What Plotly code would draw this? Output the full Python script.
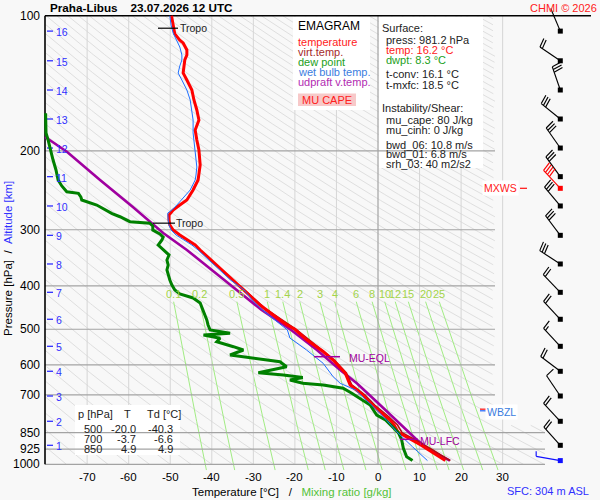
import numpy as np
import plotly.graph_objects as go

# sounding Praha-Libus 23.07.2026 12 UTC  (pressure hPa, temperature degC)
temp_p = [100.0, 104.9, 109.8, 113.3, 115.0, 119.2, 122.3, 125.5, 129.4, 134.2,
          139.1, 146.4, 154.1, 162.2, 170.8, 179.8, 189.2, 199.2, 215.2, 232.4,
          244.6, 257.5, 264.2, 271.1, 278.1, 285.3, 292.8, 300.4, 308.2, 316.2,
          324.4, 332.8, 350.4, 368.8, 388.3, 402.5, 419.3, 430.2, 441.4, 452.9,
          464.7, 476.7, 489.1, 500.0, 528.3, 560.4, 585.4, 600.6, 625.8, 665.6,
          682.9, 700.0, 718.9, 737.6, 756.7, 776.4, 796.6, 817.3, 838.6, 850.0,
          860.4, 882.7, 905.7, 929.2, 953.4, 978.2, 981.2]
temp_t = [-49.7, -49.3, -48.9, -47.7, -46.9, -46.0, -46.0, -46.5, -46.7, -46.9,
          -46.0, -44.8, -44.3, -43.6, -43.1, -44.0, -43.6, -43.1, -42.8, -43.3,
          -44.5, -46.0, -47.7, -49.3, -50.3, -50.3, -50.1, -49.3, -47.7, -45.7,
          -44.0, -42.8, -40.2, -37.5, -34.9, -33.0, -31.0, -29.8, -28.4, -26.8,
          -25.3, -23.6, -21.9, -20.0, -17.1, -13.2, -10.8, -9.6, -7.9, -6.7,
          -5.1, -3.7, -2.6, -1.4, 0.0, 1.4, 2.9, 3.9, 4.5, 4.9,
          6.0, 8.2, 10.3, 12.2, 14.0, 15.9, 16.2]

virt_p = [400.0, 450.0, 500.0, 550.0, 585.4, 625.8, 665.6, 682.9, 700.0, 737.6,
          776.4, 817.3, 850.0, 882.7, 905.7, 929.2, 953.4, 981.2]
virt_t = [-33.2, -27.1, -19.8, -14.3, -10.5, -7.6, -6.3, -4.7, -3.2, -0.8,
          2.1, 4.7, 5.8, 9.0, 11.2, 13.2, 15.1, 17.4]

dewp_p = [165.0, 175.2, 182.5, 189.2, 196.2, 204.4, 209.7, 220.7, 232.4, 239.6,
          246.8, 248.8, 253.6, 257.5, 264.2, 271.1, 276.0, 280.6, 287.8, 290.2,
          294.3, 300.4, 306.6, 311.4, 316.2, 324.4, 332.8, 341.5, 350.4, 359.5,
          368.8, 378.4, 388.3, 398.4, 408.7, 417.2, 425.8, 436.9, 452.9, 469.5,
          476.7, 489.1, 501.9, 510.5, 514.9, 523.7, 533.0, 546.8, 556.1, 570.6,
          580.3, 590.6, 605.9, 624.9, 632.3, 637.8, 640.4, 648.7, 659.8, 665.6,
          677.0, 694.6, 718.9, 737.6, 776.4, 796.6, 820.0, 850.0, 882.7, 921.0,
          962.0, 981.2]
dewp_t = [-80.0, -80.0, -79.9, -79.4, -78.9, -78.5, -78.2, -77.5, -77.0, -76.1,
          -74.9, -72.1, -71.5, -71.3, -67.7, -65.7, -64.0, -62.1, -59.7, -54.9,
          -54.2, -54.2, -52.5, -51.7, -52.0, -52.9, -51.7, -50.3, -50.8, -50.5,
          -50.8, -50.5, -50.1, -49.6, -48.9, -47.7, -44.5, -42.8, -42.1, -41.4,
          -41.2, -40.9, -40.4, -35.6, -42.0, -38.0, -38.8, -34.8, -32.4, -35.6,
          -29.2, -23.6, -22.0, -28.8, -22.8, -18.8, -18.1, -21.2, -18.1, -13.2,
          -8.4, -6.3, -3.6, -1.9, -0.3, 1.8, 3.2, 4.9, 5.7, 6.1,
          6.9, 8.3]

wetb_p = [100.0, 104.9, 109.3, 113.3, 117.4, 122.3, 125.5, 129.4, 134.2, 139.1,
          146.4, 154.1, 162.2, 170.8, 182.5, 189.2, 199.2, 209.7, 217.4, 226.5,
          232.4, 244.6, 251.0, 257.5, 264.2, 271.1, 275.3, 285.3, 292.8, 300.4,
          308.2, 316.2, 324.4, 332.8, 350.4, 368.8, 388.3, 408.7, 430.2, 452.9,
          476.7, 501.9, 522.9, 556.1, 595.4, 637.8, 659.8, 682.9, 712.6, 756.7,
          800.0, 846.0, 914.0, 960.0, 981.2]
wetb_t = [-50.1, -49.8, -49.3, -48.4, -47.7, -47.2, -47.2, -47.7, -48.1, -47.2,
          -46.0, -45.2, -44.8, -44.5, -44.5, -44.3, -44.0, -43.8, -43.6, -43.8,
          -44.0, -45.2, -46.2, -47.2, -48.4, -49.6, -50.6, -50.5, -50.3, -49.8,
          -48.6, -46.7, -44.8, -43.3, -40.7, -38.0, -35.5, -32.2, -30.3, -27.8,
          -24.8, -21.8, -21.2, -17.2, -13.2, -10.8, -9.1, -5.4, -3.3, -0.3,
          2.2, 4.5, 8.3, 10.7, 11.9]

parc_p = [186.3, 201.2, 232.4, 266.9, 305.0, 332.8, 402.5, 452.9, 501.9, 556.1,
          616.3, 659.8, 730.0, 810.2, 882.7, 929.2, 981.2]
parc_t = [-80.1, -74.8, -66.9, -59.0, -51.7, -46.0, -34.9, -28.0, -20.9, -14.7,
          -9.1, -5.1, 0.0, 5.3, 9.4, 12.5, 17.3]

# wind at every km ASL (direction deg, speed kt)
alt_km = list(range(1, 17))
alt_p = [907.1, 801.9, 704.3, 620.4, 545.7, 475.0, 413.6, 357.6,
         308.7, 265.5, 228.4, 197.2, 169.9, 146.4, 126.0, 108.2]
wind_dir = [318, 317, 326, 307, 317, 317, 316, 303, 323, 320, 324, 325, 309, 341, 304, 337]
wind_kt = [20, 20, 10, 20, 15, 20, 20, 30, 30, 30, 30, 30, 30, 30, 20, 0]
sfc_p, sfc_dir, sfc_kt = 981.2, 280, 5
mxws_p, mxws_dir, mxws_kt = 242.5, 317, 40

# levels marked on the diagram
tropo_p = [106.6, 290.0]
eql_p, lfc_p, wbzl_p = 575.6, 879.6, 756.7

press_ticks = [100, 200, 300, 400, 500, 600, 700, 850, 925, 1000]
temp_ticks = [-70, -60, -50, -40, -30, -20, -10, 0, 10, 20, 30]
mix_ratios = [0.1, 0.2, 0.5, 1, 1.4, 2, 3, 4, 6, 8, 10, 12, 15, 20, 25]
theta_c = list(range(-80, 335, 5))

tab_p = [500, 700, 850]
tab_t = [-20.0, -3.7, 4.9]
tab_td = [-40.3, -6.6, 4.9]

sfc_info = dict(press=981.2, temp=16.2, dwpt=8.3, tconv=16.1, tmxfc=18.5)
shear_info = dict(mu_cape=80, mu_cinh=0, bwd_06=10.8, bwd_01=6.8, srh_03=40)
station_alt = 304

# diagram geometry (page is 600 x 500 px)
W, H = 600, 500
X0C, PX_C = 378.0, 4.155
Y1000, PX_LN = 464.3, 194.8
BARB_X = 560.3
FONT = "Liberation Sans, Arial, sans-serif"
BG = "#f8f8f8"
BLUE = "#3030ff"


def x_of_t(t):
    return X0C + PX_C * np.asarray(t, dtype=float)


def t_of_x(x):
    return (np.asarray(x, dtype=float) - X0C) / PX_C


def y_of_p(p):
    return Y1000 + PX_LN * np.log(np.asarray(p, dtype=float) / 1000.0)


def p_of_y(y):
    return 1000.0 * np.exp((np.asarray(y, dtype=float) - Y1000) / PX_LN)


fig = go.Figure()


def add_line(xs, ys, color, width, fill=None, fillcolor=None):
    fig.add_trace(go.Scatter(x=xs, y=ys, mode="lines", line=dict(color=color, width=width),
                             fill=fill, fillcolor=fillcolor, hoverinfo="skip", showlegend=False))


def px_segments(segs):
    xs, ys = [], []
    for (xa, ya), (xb, yb) in segs:
        xs += [float(t_of_x(xa)), float(t_of_x(xb)), None]
        ys += [float(p_of_y(ya)), float(p_of_y(yb)), None]
    return xs, ys


def px_box(x0, y0, x1, y1, color):
    xs = [float(v) for v in t_of_x([x0, x1, x1, x0, x0])]
    ys = [float(v) for v in p_of_y([y0, y0, y1, y1, y0])]
    add_line(xs, ys, color, 0, fill="toself", fillcolor=color)


# dry adiabats
pp = np.geomspace(100, 1000, 300)
xs, ys = [], []
for th in theta_c:
    t = (th + 273.15) * (pp / 1000.0) ** 0.2857 - 273.15
    x = x_of_t(t)
    ok = (x >= 45) & (x <= np.where(pp < 815, 495, 545))
    for i in range(len(pp)):
        if ok[i]:
            xs.append(float(t[i]))
            ys.append(float(pp[i]))
        elif xs and xs[-1] is not None:
            xs.append(None)
            ys.append(None)
    xs.append(None)
    ys.append(None)
add_line(xs, ys, "#dfdfdf", 1)

# saturation mixing ratio lines
pm = np.geomspace(434, 1030, 60)
xs, ys = [], []
mix_top = []
for w in mix_ratios:
    lnr = np.log(w * pm / (622.0 + w) / 6.112)
    t = 243.5 * lnr / (17.67 - lnr)
    xs += list(t) + [None]
    ys += list(pm) + [None]
    mix_top.append(float(t[0]))
add_line(xs, ys, "#a2ec84", 1)

# isotherms
xs, ys = [], []
for t in temp_ticks:
    if t != 0:
        xs += [t, t, None]
        ys += [100, 1000, None]
add_line(xs, ys, "#d6d6d6", 1)

# white panels
px_box(293, 16.5, 370, 110, "white")
px_box(378.8, 16.5, 483, 168, "white")
px_box(75, 405, 180, 455, "white")
px_box(298, 93.5, 356, 106, "#f7c9c9")

# isobars and 0 degC line
xs, ys = [], []
for p in press_ticks[1:]:
    xr = 545 if p >= 850 else 495
    xs += [float(t_of_x(45)), float(t_of_x(xr)), None]
    ys += [p, p, None]
xs += [0, 0, None]
ys += [100, 1000, None]
add_line(xs, ys, "#a3a3a3", 1.2)

# frame
add_line([float(t_of_x(45))] * 2, [100, 1000], "black", 1.6)
add_line([float(t_of_x(45)), float(t_of_x(591))], [100, 100], "black", 1.4)

# altitude ticks
xs, ys = [], []
for p in alt_p:
    xs += [float(t_of_x(47)), float(t_of_x(53)), None]
    ys += [p, p, None]
add_line(xs, ys, BLUE, 1.3)

# profiles
add_line(parc_t, parc_p, "#a000a0", 2.6)
add_line(virt_t, virt_p, "#b01010", 1.6)
add_line(temp_t, temp_p, "#ff0000", 3)
add_line(dewp_t, dewp_p, "#008000", 3)
add_line(wetb_t, wetb_p, "#1f6fff", 1)

# level markers
segs = []
for p, (xa, xb) in zip(tropo_p, [(158, 178), (153, 175)]):
    y = float(y_of_p(p))
    segs.append(((xa, y), (xb, y)))
xs, ys = px_segments(segs)
add_line(xs, ys, "black", 1.2)
ye, yl = float(y_of_p(eql_p)), float(y_of_p(lfc_p))
xs, ys = px_segments([((314, ye), (340, ye)), ((400, yl), (418, yl))])
add_line(xs, ys, "#a000a0", 1.5)
yw = float(y_of_p(wbzl_p))
xs, ys = px_segments([((480, yw - 0.8), (486, yw - 0.8))])
add_line(xs, ys, "#ff2020", 1.3)
xs, ys = px_segments([((480, yw + 0.8), (486, yw + 0.8))])
add_line(xs, ys, "#3070ff", 1.3)
ym = float(y_of_p(mxws_p))
xs, ys = px_segments([((520, ym), (527, ym))])
add_line(xs, ys, "#ff2020", 1.3)


# wind barbs
def barb(p, wdir, kt, shaft=24.5, full=9.5, half=5.0, step=2.8):
    bx, by = BARB_X, float(y_of_p(p))
    a = np.radians(wdir)
    ux, uy = np.sin(a), -np.cos(a)
    ex, ey = bx + shaft * ux, by + shaft * uy
    tilt = np.radians(10)
    tx = -uy * np.cos(tilt) + ux * np.sin(tilt)
    ty = ux * np.cos(tilt) + uy * np.sin(tilt)
    segs = [((bx, by), (ex, ey))]
    n_full, n_half = kt // 10, 1 if kt % 10 >= 5 else 0
    for i in range(n_full + n_half):
        ln = full if i < n_full else half
        sx, sy = ex - i * step * ux, ey - i * step * uy
        segs.append(((sx, sy), (sx + ln * tx, sy + ln * ty)))
    return segs


def draw_barbs(levels, dirs, speeds, color):
    segs = []
    for p, d, s in zip(levels, dirs, speeds):
        segs += barb(p, d, s)
    xs, ys = px_segments(segs)
    add_line(xs, ys, color, 1.15)
    fig.add_trace(go.Scatter(x=[float(t_of_x(BARB_X))] * len(levels), y=list(levels), mode="markers",
                             marker=dict(symbol="square", size=5, color=color),
                             hoverinfo="skip", showlegend=False))


draw_barbs(alt_p, wind_dir, wind_kt, "black")
draw_barbs([mxws_p], [mxws_dir], [mxws_kt], "#ff0000")
draw_barbs([sfc_p], [sfc_dir], [sfc_kt], "#1010ff")


# texts
def note(text, x, y, size=11, color="#222222", anchor="left", **kw):
    fig.add_annotation(text=text, x=x / W, y=1 - y / H, xref="paper", yref="paper",
                       xanchor=anchor, yanchor="middle", showarrow=False,
                       font=dict(family=FONT, size=size, color=color), **kw)


def note_at(text, t, p, size=11, color="#222222", anchor="left", **kw):
    fig.add_annotation(text=text, x=t, y=float(np.log10(p)), xref="x", yref="y",
                       xanchor=anchor, yanchor="middle", showarrow=False,
                       font=dict(family=FONT, size=size, color=color), **kw)


NB = "\u00a0"
note("<b>Praha-Libus" + NB * 4 + "23.07.2026 12 UTC</b>", 48, 7.5, size=11.7, color="black")
note("CHMI © 2026", 599, 7.5, size=11, color="#ff2020", anchor="right")

for p in press_ticks:
    note_at(str(p), float(t_of_x(42)), p, size=12, color="black", anchor="right")
for t in temp_ticks:
    note(str(t), float(x_of_t(t)), 477, size=11.5, color="black", anchor="center")
for k, p in zip(alt_km, alt_p):
    note_at(str(k), float(t_of_x(53.5)), float(p_of_y(y_of_p(p) + 1)), size=10.5, color=BLUE)
for w, t in zip(mix_ratios, mix_top):
    note_at(f"{w:g}", t, float(p_of_y(294)), size=11, color="#a3d44a", anchor="center")

note("Pressure [hPa]" + NB * 2 + "/" + NB * 2 + f"<span style='color:{BLUE}'>Altitude [km]</span>",
     8, 259, size=11.5, color="black", anchor="center", textangle=-90)
note("Temperature [°C]" + NB * 3 + "/" + NB * 3 + "<span style='color:#55c23a'>Mixing ratio [g/kg]</span>",
     292, 492, size=11.5, color="black", anchor="center")
note(f"SFC: {station_alt} m ASL", 591, 491, size=11, color=BLUE, anchor="right")

# legend panel
note("EMAGRAM", 296, 26, size=12, color="black")
for i, (lab, col) in enumerate([("temperature", "#ff1a1a"), ("virt.temp.", "#a52a2a"),
                                ("dew point", "#22a022"), ("wet bulb temp.", "#3a7de0"),
                                ("udpraft v.temp.", "#b22bb2")]):
    note(lab, 296, 42 + 10 * i, size=11, color=col)
note("MU CAPE", 327, 100, size=11, color="#ff2020", anchor="center")

# surface / instability panel
note("Surface:", 380, 27.5)
note(f"press: {sfc_info['press']} hPa", 384, 40)
note(f"temp: {sfc_info['temp']} °C", 384, 50, color="#ff2020")
note(f"dwpt: {sfc_info['dwpt']} °C", 384, 60, color="#22a022")
note(f"t-conv: {sfc_info['tconv']} °C", 384, 74)
note(f"t-mxfc: {sfc_info['tmxfc']} °C", 384, 84.5)
note("Instability/Shear:", 380, 108.5)
note(f"mu_cape: {shear_info['mu_cape']} J/kg", 384, 120)
note(f"mu_cinh: {shear_info['mu_cinh']} J/kg", 384, 130)
note(f"bwd_06: {shear_info['bwd_06']} m/s", 384, 145)
note(f"bwd_01: {shear_info['bwd_01']} m/s", 384, 154.5)
note(f"srh_03: {shear_info['srh_03']} m2/s2", 384, 164.5)

# standard level table
note("p [hPa]", 76, 413.5)
note("T", 127, 413.5, anchor="center")
note("Td [°C]", 145, 413.5)
for i, (p, t, td) in enumerate(zip(tab_p, tab_t, tab_td)):
    y = 428.5 + 10.3 * i
    note(str(p), 104, y, anchor="right")
    note(f"{t:.1f}", 138, y, anchor="right")
    note(f"{td:.1f}", 175, y, anchor="right")

# level labels
for p, x in zip(tropo_p, [178, 174]):
    note_at("Tropo", float(t_of_x(x)), p, size=10.5, color="#222222")
note_at("MU-EQL", float(t_of_x(347)), float(p_of_y(ye + 0.8)), size=10.5, color="#a000a0")
note_at("MU-LFC", float(t_of_x(418)), float(p_of_y(yl + 1.5)), size=10.5, color="#a000a0")
note_at("WBZL", float(t_of_x(485)), float(p_of_y(yw + 2)), size=10.5, color="#3a7de0", bgcolor="white")
note_at("MXWS", float(t_of_x(519)), mxws_p, size=10.5, color="#ff2020", anchor="right", bgcolor="white")

fig.update_layout(
    width=W, height=H, margin=dict(l=0, r=0, t=0, b=0),
    paper_bgcolor=BG, plot_bgcolor=BG, showlegend=False,
    xaxis=dict(range=[float(t_of_x(0)), float(t_of_x(W))], visible=False),
    yaxis=dict(type="log", range=[float(np.log10(p_of_y(H))), float(np.log10(p_of_y(0)))], visible=False),
)

# the browser's default 8px page margin would shift the whole diagram
fig.write_html("out.html", config={"displayModeBar": False},
               post_script="document.body.style.margin = '0px';")
